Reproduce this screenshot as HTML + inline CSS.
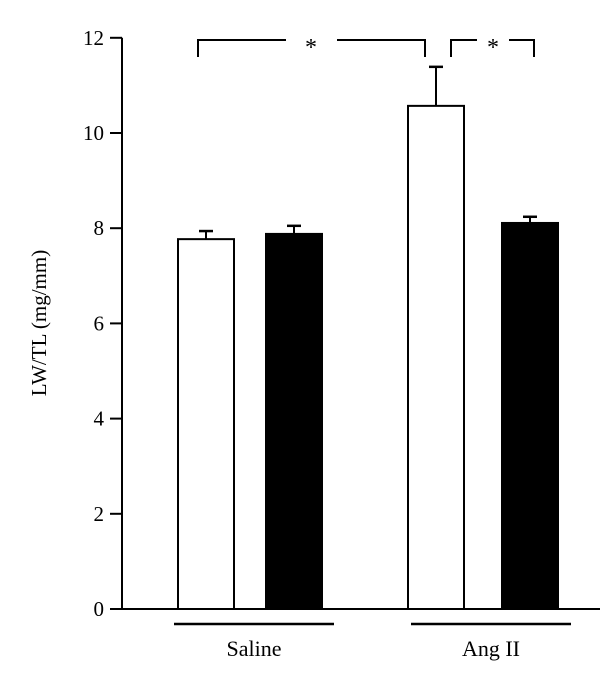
<!DOCTYPE html>
<html><head><meta charset="utf-8"><style>
html,body{margin:0;padding:0;background:#fff;}
svg{display:block;font-family:"Liberation Serif",serif;}
</style></head><body>
<svg id="chart" width="600" height="684" viewBox="0 0 600 684">
<g id="axes"></g><g id="bars"></g><g id="annot"></g>
</svg>
<script>
const categories = ["Saline-white","Saline-black","AngII-white","AngII-black"];
const values = [7.77, 7.88, 10.57, 8.11];
const errors = [0.17, 0.17, 0.82, 0.13];
const fills = ["#fff","#000","#fff","#000"];
const ticks = [0,2,4,6,8,10,12];
const groupLabels = ["Saline","Ang II"];

const NS="http://www.w3.org/2000/svg";
const y0=609, pxPerUnit=47.6, axisX=122;
const yScale=v=>y0-v*pxPerUnit;
const barX=[178,266,408,502], barW=56;
function mk(tag,attrs,parent,text){const e=document.createElementNS(NS,tag);for(const k in attrs)e.setAttribute(k,attrs[k]);if(text!==undefined)e.textContent=text;parent.appendChild(e);return e;}
const axes=document.getElementById('axes'), bars=document.getElementById('bars'), annot=document.getElementById('annot');

let ax=mk('line',{x1:axisX,y1:yScale(12),x2:axisX,y2:y0,stroke:'#000','stroke-width':2},axes);


let bl=mk('line',{x1:110,y1:y0,x2:600,y2:y0,stroke:'#000','stroke-width':2},axes);


ticks.forEach(t=>{
  const y=yScale(t);
  let tl=mk('line',{x1:axisX-12,y1:y,x2:axisX,y2:y,stroke:'#000','stroke-width':2},axes);
  
  
  let tx=mk('text',{x:104,y:y+7,'text-anchor':'end','font-size':21},axes,String(t));
  
  
});
let yt=mk('text',{x:0,y:0,'text-anchor':'middle','font-size':21,transform:'translate(46,323) rotate(-90)'},axes,'LW/TL (mg/mm)');



values.forEach((v,i)=>{
  const x=barX[i], top=yScale(v), et=yScale(v+errors[i]), cx=x+barW/2;
  let eb=mk('line',{x1:cx,y1:top,x2:cx,y2:et,stroke:'#000','stroke-width':2},bars);
  
  
  let ec=mk('line',{x1:cx-7,y1:et,x2:cx+7,y2:et,stroke:'#000','stroke-width':2.5},bars);
  
  
  let r=mk('rect',{x:x,y:top,width:barW,height:y0-top,fill:fills[i],stroke:'#000','stroke-width':2},bars);
  
  
});

const groups=[[174,334],[411,571]];
groups.forEach((g,i)=>{
  let l=mk('line',{x1:g[0],y1:624,x2:g[1],y2:624,stroke:'#000','stroke-width':2.5},annot);
  
  
  let t=mk('text',{x:(g[0]+g[1])/2,y:656,'text-anchor':'middle','font-size':22},annot,groupLabels[i]);
  
  
});

const brackets=[[198,425,286,337,311],[451,534,477,509,493]];
brackets.forEach((b,i)=>{
  let p=mk('path',{d:`M${b[0]},57 V40 H${b[2]} M${b[3]},40 H${b[1]} V57`,fill:'none',stroke:'#000','stroke-width':2},annot);
  
  
  let s=mk('text',{x:b[4],y:55,'text-anchor':'middle','font-size':24},annot,'*');
  
  
});
</script>
</body></html>
